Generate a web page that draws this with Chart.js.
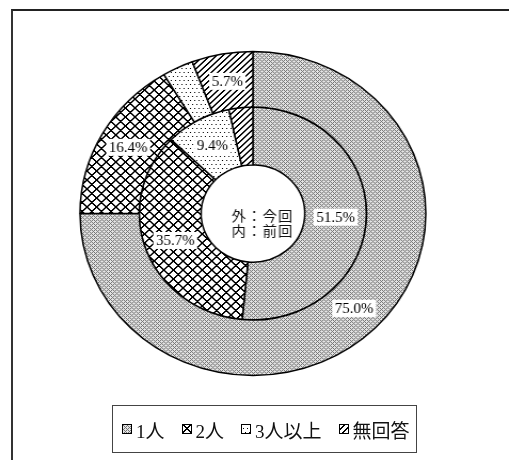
<!DOCTYPE html>
<html>
<head>
<meta charset="utf-8">
<script src="https://cdn.jsdelivr.net/npm/chart.js@4.4.1/dist/chart.umd.min.js"></script>
<style>
html, body { margin: 0; padding: 0; background: #fff; }
body { width: 509px; height: 460px; position: relative; overflow: hidden; }
#frame { position: absolute; left: 11px; top: 9px; width: 600px; height: 600px;
         border-left: 2px solid #333; border-top: 2px solid #222; }
#chart { position: absolute; left: 0; top: 0; }
#legend { position: absolute; left: 112px; top: 405px; width: 305px; height: 48px;
          box-sizing: border-box; border: 1px solid #444; display: flex; align-items: center;
          padding-left: 9px; white-space: nowrap;
          font: 19px "Liberation Serif", "Noto Sans CJK JP", serif; color: #111; }
.item { display: flex; align-items: center; flex-shrink: 0; margin-right: 17px; }
.item canvas { width: 10px; height: 10px; margin-right: 4px; flex-shrink: 0; }
</style>
</head>
<body>
<div id="frame"></div>
<canvas id="chart" width="477" height="460" style="width:509px;height:460px"></canvas>
<div id="legend"></div>
<script>
// 外：今回 / 内：前回
const categories = ['1人', '2人', '3人以上', '無回答'];
const seriesNames = ['今回', '前回'];
const currentValues = [75.0, 16.4, 2.9, 5.7];
const previousValues = [51.5, 35.7, 9.4, 3.4];
const centerLines = ['外：今回', '内：前回'];

// small bitmap tiles for the hatch fills
function tile(size, bg, fg, on) {
    const c = document.createElement('canvas');
    c.width = c.height = size;
    const g = c.getContext('2d');
    g.fillStyle = bg;
    g.fillRect(0, 0, size, size);
    g.fillStyle = fg;
    for (let y = 0; y < size; y++)
        for (let x = 0; x < size; x++)
            if (on(x, y)) g.fillRect(x, y, 1, 1);
    return c;
}
const bayer = [
    [0, 8, 2, 10],
    [12, 4, 14, 6],
    [3, 11, 1, 9],
    [15, 7, 13, 5]
];
const tiles = [
    tile(4, '#e4e4e4', '#747474', (x, y) => bayer[y][x] < 6),
    tile(9, '#ffffff', '#000000', (x, y) => x === y || x === (y + 1) % 9 || x === 8 - y || x === (9 - y) % 9),
    tile(8, '#ffffff', '#000000', (x, y) => (x % 4 === 0 && y % 8 === 0) || (x % 4 === 2 && y % 8 === 4)),
    tile(6, '#ffffff', '#000000', (x, y) => (x + y) % 6 === 5 || (x + y) % 6 === 0)
];

const canvas = document.getElementById('chart');
const ctx = canvas.getContext('2d');
const fills = tiles.map(t => ctx.createPattern(t, 'repeat'));

const sliceLabels = {
    id: 'sliceLabels',
    afterDatasetsDraw(chart) {
        const c = chart.ctx;
        c.save();
        c.textAlign = 'center';
        c.textBaseline = 'middle';
        c.font = '14px "Liberation Serif", serif';
        chart.data.datasets.forEach((ds, i) => {
            chart.getDatasetMeta(i).data.forEach((arc, j) => {
                const v = ds.data[j];
                if (v < 5) return;
                const p = arc.tooltipPosition();
                const text = v.toFixed(1) + '%';
                const w = c.measureText(text).width + 5;
                c.fillStyle = '#fff';
                c.fillRect(p.x - w / 2, p.y - 8.5, w, 17);
                c.fillStyle = '#000';
                c.fillText(text, p.x, p.y + 1);
            });
        });
        const arc0 = chart.getDatasetMeta(0).data[0];
        c.font = '13.5px "Noto Sans CJK JP", sans-serif';
        c.letterSpacing = '1px';
        c.fillStyle = '#111';
        c.fillText(centerLines[0], arc0.x + 9, arc0.y + 2);
        c.fillText(centerLines[1], arc0.x + 9, arc0.y + 17);
        c.restore();
    }
};

new Chart(canvas, {
    type: 'doughnut',
    data: {
        labels: categories,
        datasets: [
            { label: seriesNames[0], data: currentValues, backgroundColor: fills, weight: 55.5 },
            { label: seriesNames[1], data: previousValues, backgroundColor: fills, weight: 58 }
        ]
    },
    options: {
        responsive: false,
        animation: false,
        devicePixelRatio: 1,
        radius: 162,
        cutout: '30%',
        borderColor: '#000',
        borderWidth: 1.5,
        hoverOffset: 0,
        layout: { padding: { left: 67, right: 70, top: 43.5, bottom: 76.5 } },
        plugins: {
            legend: { display: false },
            tooltip: { enabled: false }
        }
    },
    plugins: [sliceLabels]
});

// legend box under the chart
const legend = document.getElementById('legend');
categories.forEach((name, i) => {
    const item = document.createElement('span');
    item.className = 'item';
    const icon = document.createElement('canvas');
    icon.width = icon.height = 10;
    const g = icon.getContext('2d');
    g.fillStyle = g.createPattern(tiles[i], 'repeat');
    g.fillRect(0, 0, 10, 10);
    g.strokeStyle = '#000';
    g.strokeRect(0.5, 0.5, 9, 9);
    const label = document.createElement('span');
    label.textContent = name;
    item.appendChild(icon);
    item.appendChild(label);
    legend.appendChild(item);
});
</script>
</body>
</html>
